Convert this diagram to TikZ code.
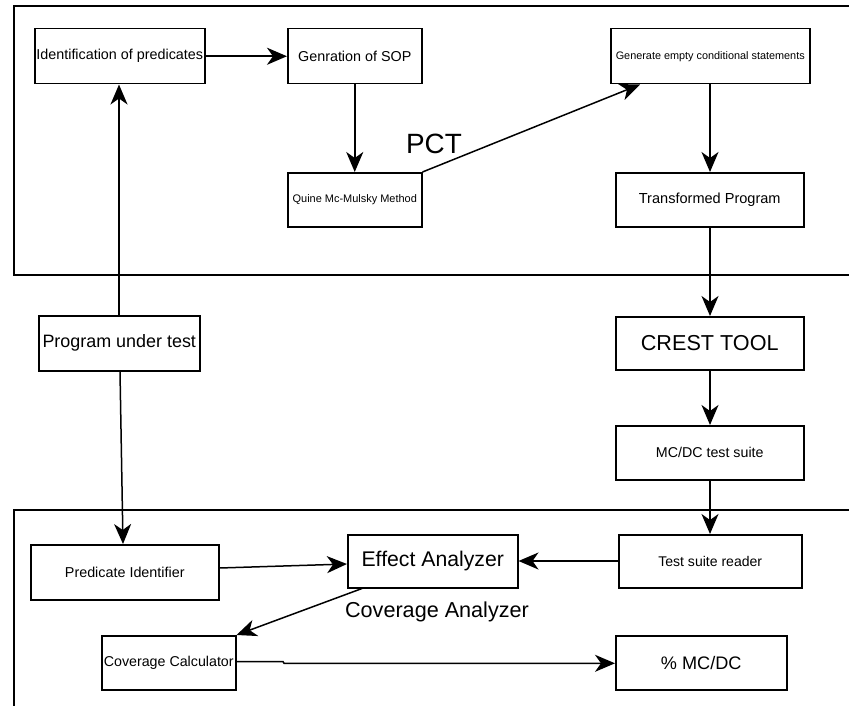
\documentclass[tikz,border=0pt]{standalone}
\usepackage{fontspec}
\setmainfont{Liberation Sans}
\usetikzlibrary{arrows.meta}
\begin{document}
\begin{tikzpicture}[x=1bp,y=-1bp,
  box/.style={draw=black,line width=1.5bp,fill=white,inner sep=0pt,anchor=north west},
  conn/.style={draw=black,line width=1.5bp,-{Stealth[length=20bp,width=17bp,inset=6bp]}},
  frame/.style={draw=black,line width=1.5bp}]
\useasboundingbox (0,0) rectangle (849,706);
% containers
\draw[frame] (852,6) -- (14,6) -- (14,275) -- (852,275);
\draw[frame] (852,510) -- (14,510) -- (14,709);
% nodes
\node[box,minimum width=170bp,minimum height=55bp,font=\fontsize{14.4}{16}\selectfont] (idp) at (34,28) {Identification of predicates};
\node[box,minimum width=134bp,minimum height=55bp,font=\fontsize{14.4}{16}\selectfont] (sop) at (287,28) {Genration of SOP};
\node[box,minimum width=134bp,minimum height=54bp,font=\fontsize{11}{13}\selectfont] (qmm) at (287,172) {Quine Mc-Mulsky Method};
\node[box,minimum width=199bp,minimum height=55bp,font=\fontsize{10.9}{13}\selectfont] (gen) at (610,28) {Generate empty conditional statements};
\node[box,minimum width=188bp,minimum height=54bp,font=\fontsize{14.6}{16}\selectfont] (tp) at (615,172) {Transformed Program};
\node[box,minimum width=161bp,minimum height=55bp,font=\fontsize{18}{20}\selectfont] (put) at (38,315) {Program under test};
\node[box,minimum width=188bp,minimum height=53bp,font=\fontsize{21.7}{24}\selectfont] (crest) at (615,316) {CREST TOOL};
\node[box,minimum width=188bp,minimum height=54bp,font=\fontsize{14.3}{16}\selectfont] (mcdc) at (615,425) {MC/DC test suite};
\node[box,minimum width=183bp,minimum height=53bp,font=\fontsize{14.1}{16}\selectfont] (tsr) at (618,534) {Test suite reader};
\node[box,minimum width=170bp,minimum height=53bp,font=\fontsize{21.3}{24}\selectfont] (ea) at (347,534) {Effect Analyzer};
\node[box,minimum width=188bp,minimum height=55bp,font=\fontsize{14.4}{16}\selectfont] (pi) at (30,544) {Predicate Identifier};
\node[box,minimum width=134bp,minimum height=54bp,font=\fontsize{14.3}{16}\selectfont] (cc) at (101,635) {Coverage Calculator};
\node[box,minimum width=171bp,minimum height=54bp,font=\fontsize{18.2}{20}\selectfont] (pm) at (615,635) {\% MC/DC};
% labels
\node[font=\fontsize{28}{30}\selectfont,inner sep=0pt] (pct) at (434,144) {PCT};
\node[font=\fontsize{21.7}{24}\selectfont,inner sep=0pt] (cov) at (437,612) {Coverage Analyzer};
% connectors
\draw[conn] (put.north -| 119,0) -- (idp.south -| 119,0);
\draw[conn] (idp.east) -- (sop.west);
\draw[conn] (sop.south) -- (qmm.north);
\draw[conn] (qmm.north east) -- (gen.south west -| 640,0);
\draw[conn] (gen.south -| 710,0) -- (tp.north -| 710,0);
\draw[conn] (tp.south -| 710,0) -- (crest.north -| 710,0);
\draw[conn] (crest.south -| 710,0) -- (mcdc.north -| 710,0);
\draw[conn] (mcdc.south -| 710,0) -- (tsr.north -| 710,0);
\draw[conn] (put.south -| 120,0) -- (pi.north -| 123,0);
\draw[conn] (pi.east |- 0,568) -- (ea.west |- 0,564);
\draw[conn] (tsr.west |- 0,561) -- (ea.east |- 0,561);
\draw[conn] (ea.south west -| 362,0) -- (cc.north east);
\draw[conn] (cc.east |- 0,661.5) -- (283,661.5) -- (284,663.3) -- (pm.west |- 0,663.3);
\end{tikzpicture}
\end{document}
